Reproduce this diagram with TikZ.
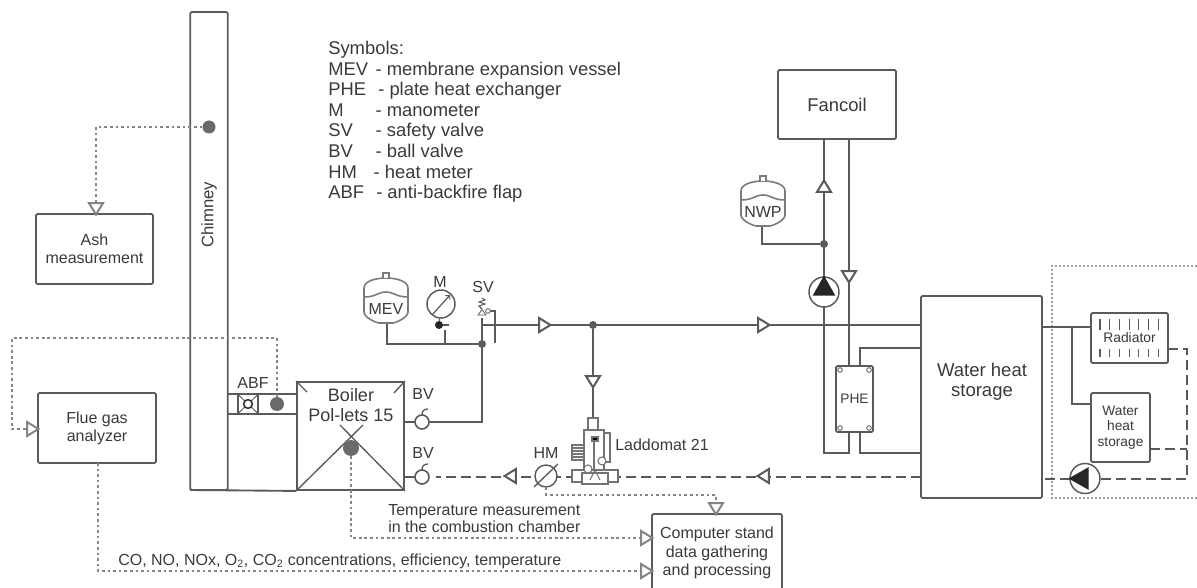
\documentclass[tikz,border=0pt]{standalone}
\usepackage{fontspec}
\setmainfont{Liberation Sans}
\usetikzlibrary{shapes.geometric}
\definecolor{pipegray}{HTML}{5A5A5A}
\definecolor{signalgray}{HTML}{858585}
\definecolor{textgray}{HTML}{3A3A3A}

\tikzset{%
  plant box/.style 2 args={
    draw=pipegray,
    line width=1.4pt,
    fill=white,
    align=center,
    inner sep=0pt,
    rounded corners=1pt,
    text=textgray,
    font=\fontsize{12}{13.7}\selectfont,
    minimum width=0.75pt*#1,
    minimum height=0.75pt*#2
  },
  label text/.style={
    text=textgray,
    inner sep=0pt,
    align=left,
    font=\fontsize{12}{13}\selectfont
  },
  pipe line/.style={draw=pipegray, line width=1.9pt},
  thin pipe/.style={draw=pipegray, line width=1.4pt},
  return pipe/.style={draw=pipegray, line width=1.9pt, dash pattern=on 7.5pt off 3.75pt},
  signal line/.style={draw=signalgray, line width=1.7pt, dash pattern=on 2pt off 2.2pt},
  flow mark/.style={
    isosceles triangle,
    isosceles triangle stretches,
    draw=pipegray,
    fill=white,
    line width=1.5pt,
    inner sep=0pt,
    minimum height=8.5pt,
    minimum width=10.5pt,
    shape border rotate=#1
  },
  probe dot/.style={circle, fill=signalgray!80!black, inner sep=0pt, minimum size=0.75pt*#1},
  joint dot/.style={circle, fill=pipegray, inner sep=0pt, minimum size=6pt},
  pump body/.style={circle, draw=pipegray, fill=white, line width=1.1pt, inner sep=0pt, minimum size=22.5pt},
  pump mark/.style={
    isosceles triangle,
    isosceles triangle stretches,
    fill=black!85,
    inner sep=0pt,
    minimum height=15pt,
    minimum width=17pt,
    shape border rotate=#1
  },
  valve body/.style={circle, draw=pipegray, fill=white, line width=1.2pt, inner sep=0pt, minimum size=10.5pt},
  vessel/.pic={
    \draw [thin pipe, line width=1.2pt, draw=pipegray!80, fill=white]
      (-22,-12) .. controls (-22,-19) and (-10,-22) .. (0,-22)
      .. controls (10,-22) and (22,-19) .. (22,-12) -- (22,12)
      .. controls (22,17) and (12,22) .. (7,23) -- (-7,23)
      .. controls (-12,22) and (-22,17) .. (-22,12) -- cycle;
    \draw [thin pipe, line width=1.2pt, draw=pipegray!80] (-22,-3) .. controls (-10,-3) and (-8,-8) .. (0,-8)
      .. controls (8,-8) and (10,-3) .. (22,-3);
    \draw [thin pipe, line width=1.2pt, draw=pipegray!80, fill=white] (-3,-22) -- (-3,-27) -- (3,-27) -- (3,-22);
  },
  ball valve/.pic={
    \draw [thin pipe, line width=1pt] (0,-7) .. controls (0,-11) and (2,-13) .. (6,-13);
  },
  hx corner/.style={circle, draw=pipegray, line width=0.6pt, inner sep=0pt, minimum size=3.5pt}
}

\begin{document}
\begin{tikzpicture}[x=0.75pt,y=-0.75pt]
  \useasboundingbox (0,0) rectangle (1197,588);

  % chimney and boiler
  \node [plant box={37.5}{478}] (chimney) at (209,251) {};
  \node [label text, rotate=90, font=\fontsize{12.5}{14}\selectfont] (chimney-text) at (209,215) {Chimney};
  \node [plant box={107}{108}, rounded corners=0pt] (boiler) at (350.5,436) {};
  \coordinate (base-1) at (190,490);
  \coordinate (duct-a) at (228,394);
  \coordinate (duct-b) at (297,394);
  \coordinate (duct-c) at (228,414);
  \coordinate (duct-d) at (297,414);
  \draw [thin pipe] (base-1) -- (boiler.south west);
  \draw [thin pipe] (duct-a) -- (duct-b);
  \draw [thin pipe] (duct-c) -- (duct-d);
  \coordinate (cross-a) at (340,425);
  \coordinate (cross-b) at (363,425);
  \coordinate (tick-a) at (307,392);
  \coordinate (tick-b) at (394,393);
  \draw [thin pipe, line width=1pt] (boiler.south west) -- (cross-b);
  \draw [thin pipe, line width=1pt] (boiler.south east) -- (cross-a);
  \draw [thin pipe, line width=1pt] (boiler.north west) -- (tick-a);
  \draw [thin pipe, line width=1pt] (boiler.north east) -- (tick-b);
  \node [label text, align=center, font=\fontsize{13.5}{15}\selectfont] (boiler-text) at (351,405) {Boiler\\Pol-lets 15};

  % anti-backfire flap
  \node [plant box={20}{19}, line width=0.9pt, rounded corners=0pt] (flap) at (248,404) {};
  \draw [thin pipe, line width=0.7pt] (flap.north west) -- (flap.south east);
  \draw [thin pipe, line width=0.7pt] (flap.north east) -- (flap.south west);
  \node [circle, draw=black!80, fill=white, line width=1.2pt, inner sep=0pt, minimum size=6.5pt] (flap-c) at (248,404) {};
  \node [label text] (ABF) at (253,383) {ABF};

  % probes
  \node [probe dot=13] (probe-1) at (209,127) {};
  \node [probe dot=14] (probe-2) at (277,404) {};
  \node [probe dot=16] (probe-3) at (351,448) {};

  % measurement boxes
  \node [plant box={117}{70}] (ash) at (94.5,249) {Ash\\measurement};
  \node [plant box={118}{70}] (analyzer) at (97,428) {Flue gas\\analyzer};
  \node [plant box={130}{78}] (computer) at (717,553) {Computer stand\\data gathering\\and processing};
  \node [plant box={118}{69}, font=\fontsize{13.8}{15}\selectfont] (fancoil) at (837,104.5) {Fancoil};
  \node [plant box={121}{202}] (storage) at (981.5,397) {};
  \node [label text, align=center, font=\fontsize{13.9}{15}\selectfont] (storage-text) at (982,382) {Water heat\\storage};
  \node [plant box={77}{50}, font=\fontsize{10.4}{11}\selectfont] (radiator) at (1129.5,338) {Radiator};
  \node [plant box={59}{69}, font=\fontsize{10.3}{11.6}\selectfont] (small-storage) at (1120.5,427.5) {Water\\heat\\storage};
  \node [plant box={37}{66}, font=\fontsize{10.3}{11}\selectfont] (PHE) at (854.5,399) {PHE};

  % radiator ribs
  \foreach \n in {0,...,6}{
    \coordinate (rib-a\n) at (1100+9.7*\n,319);
    \coordinate (rib-b\n) at (1100+9.7*\n,330);
    \coordinate (rib-c\n) at (1100+9.7*\n,349);
    \coordinate (rib-d\n) at (1100+9.7*\n,357);
    \draw [thin pipe, line width=0.9pt] (rib-a\n) -- (rib-b\n);
    \draw [thin pipe, line width=0.9pt] (rib-c\n) -- (rib-d\n);
  }

  % exchanger corners
  \node [hx corner] (hx-1) at (840,370) {};
  \node [hx corner] (hx-2) at (869,370) {};
  \node [hx corner] (hx-3) at (840,428) {};
  \node [hx corner] (hx-4) at (869,428) {};

  % dotted frame, open towards the right border
  \coordinate (frame-a) at (1197,266);
  \coordinate (frame-b) at (1052,266);
  \coordinate (frame-c) at (1052,498);
  \coordinate (frame-d) at (1197,498);
  \draw [signal line, line width=1.1pt, dash pattern=on 1.5pt off 1.5pt, draw=signalgray!80] (frame-a) -- (frame-b) -- (frame-c) -- (frame-d);

  % feed pipes
  \coordinate (mev-in) at (387,323);
  \coordinate (mev-c) at (387,344);
  \coordinate (gauge-c) at (445,344);
  \coordinate (gauge-d) at (445,330);
  \coordinate (sv-top) at (482,318);
  \coordinate (feed-a) at (482,325);
  \coordinate (feed-b) at (921,325);
  \coordinate (bv1-c) at (482,422);
  \coordinate (bv1-l) at (404,422);
  \coordinate (bv2-l) at (404,477);
  \coordinate (stub-a) at (495,311);
  \coordinate (stub-b) at (495,343);
  \coordinate (stub-c) at (487,311);
  \node [joint dot] (joint-1) at (482,344) {};
  \node [joint dot] (joint-2) at (593,325) {};
  \draw [pipe line] (mev-in) -- (mev-c) -- (joint-1);
  \draw [thin pipe] (gauge-d) -- (gauge-c);
  \draw [thin pipe] (sv-top) -- (joint-1);
  \draw [pipe line] (joint-1) -- (bv1-c) -- (bv1-l);
  \draw [pipe line] (feed-a) -- (feed-b);
  \draw [thin pipe] (stub-c) -- (stub-a) -- (stub-b);
  \coordinate (bv2-r) at (422,477);
  \draw [pipe line] (bv2-l) -- (bv2-r);

  % fancoil and exchanger loop
  \coordinate (fan-up) at (824,139);
  \coordinate (fan-down) at (849,139);
  \coordinate (loop-a) at (824,453);
  \coordinate (loop-b) at (849,453);
  \coordinate (hx-top) at (849,366);
  \coordinate (hx-low) at (849,432);
  \coordinate (hs-top) at (860,366);
  \coordinate (hs-a) at (860,348);
  \coordinate (hs-b) at (921,348);
  \coordinate (hs-low) at (860,432);
  \coordinate (hs-c) at (860,453);
  \coordinate (hs-d) at (921,453);
  \coordinate (nwp-in) at (762,225);
  \coordinate (nwp-c) at (762,244);
  \draw [thin pipe] (fan-up) -- (loop-a) -- (loop-b) -- (hx-low);
  \draw [thin pipe] (fan-down) -- (hx-top);
  \draw [thin pipe] (hs-top) -- (hs-a) -- (hs-b);
  \draw [thin pipe] (hs-low) -- (hs-c) -- (hs-d);
  \node [joint dot] (joint-3) at (824,244) {};
  \draw [thin pipe] (nwp-in) -- (nwp-c) -- (joint-3);

  % radiator side
  \coordinate (rad-a) at (1042,327);
  \coordinate (rad-b) at (1091,327);
  \coordinate (rad-c) at (1072,327);
  \coordinate (rad-d) at (1072,404);
  \coordinate (rad-e) at (1091,404);
  \coordinate (back-a) at (1168,349);
  \coordinate (back-b) at (1187,349);
  \coordinate (back-c) at (1187,479);
  \coordinate (back-d) at (1150,449);
  \coordinate (back-e) at (1187,449);
  \coordinate (back-f) at (1042,479);
  \coordinate (back-g) at (1085,479);
  \draw [pipe line] (rad-a) -- (rad-b);
  \draw [pipe line] (rad-c) -- (rad-d) -- (rad-e);
  \draw [return pipe] (back-a) -- (back-b) -- (back-c) -- (back-g);
  \draw [return pipe] (back-d) -- (back-e);
  \draw [return pipe] (back-g) -- (back-f);
  \node [pump body] (pump-2) at (1085,478.5) {};
  \node [pump mark=180] (pump-2m) at (1082,478.5) {};

  % return pipe
  \coordinate (ret-a) at (921,477);
  \coordinate (ret-b) at (436,477);
  \draw [return pipe] (ret-a) -- (ret-b);

  % main pump
  \node [pump body] (pump-1) at (824,292) {};
  \node [pump mark=90] (pump-1m) at (824,289) {};

  % mixing valve
  \coordinate (mix-in) at (593,418);
  \draw [pipe line] (joint-2) -- (mix-in);
  \begin{scope}[draw=pipegray!85, line width=0.8pt]
    \draw [fill=white] (572,445) rectangle (584,460);
    \draw [fill=white] (584,430) rectangle (604,478);
    \draw [fill=white] (588,418) rectangle (598,430);
    \draw [fill=white] (604,433) rectangle (610,462);
    \draw [fill=white] (572,470) rectangle (618,482);
    \draw [fill=white] (582,473) rectangle (608,484);
    \foreach \y in {448,451,454,457} \draw (572,\y) -- (584,\y);
    \draw [fill=white] (588,469) circle (4);
    \draw [fill=white] (602,461) circle (4);
    \draw [fill=black] (592,437) rectangle (598,441);
    \draw (594,441) -- (594,470);
    \draw (590,480) -- (595,470) -- (600,480);
  \end{scope}
  \node [label text, anchor=west] (laddomat) at (615,445) {Laddomat 21};

  % flow marks
  \node [flow mark=0] (flow-1) at (543,325) {};
  \node [flow mark=0] (flow-2) at (762,325) {};
  \node [flow mark=90] (flow-3) at (824,188) {};
  \node [flow mark=270] (flow-4) at (849,275) {};
  \node [flow mark=180] (flow-5) at (512,476) {};
  \node [flow mark=180] (flow-6) at (765,476) {};
  \node [flow mark=270] (flow-7) at (593,380) {};

  % vessels
  \pic at (386,300) {vessel};
  \node [label text] (MEV) at (386,309) {MEV};
  \pic at (763,203) {vessel};
  \node [label text] (NWP) at (763,212) {NWP};

  % manometer
  \node [circle, draw=pipegray, fill=white, line width=1.1pt, inner sep=0pt, minimum size=21pt] (gauge) at (441,304) {};
  \coordinate (gauge-a) at (432,315);
  \coordinate (gauge-b) at (450,295);
  \draw [->, thin pipe, line width=0.9pt] (gauge-a) -- (gauge-b);
  \node [circle, fill=black!85, inner sep=0pt, minimum size=6pt] (gauge-v) at (439,325) {};
  \draw [thin pipe, line width=0.9pt] (gauge) -- (gauge-v);
  \coordinate (gauge-t) at (449,325);
  \draw [thin pipe, line width=0.9pt] (gauge-v) -- (gauge-t);
  \node [label text] (M) at (440,282) {M};

  % safety valve
  \coordinate (sv-a) at (482,298);
  \draw [thin pipe, line width=0.8pt] (sv-a) -- ++(3,2) -- ++(-6,2) -- ++(6,2) -- ++(-6,2) -- ++(3,3);
  \node [isosceles triangle, isosceles triangle stretches, draw=pipegray, fill=white, line width=0.6pt, inner sep=0pt, minimum height=4pt, minimum width=6pt, shape border rotate=90] (sv-v) at (482,313) {};
  \node [circle, draw=pipegray, fill=white, line width=0.6pt, inner sep=0pt, minimum size=3.5pt] (sv-o) at (488,311) {};
  \node [label text] (SV) at (483,287) {SV};

  % ball valves
  \node [valve body] (bv-1) at (422,422) {};
  \pic at (422,422) {ball valve};
  \node [label text] (BV1) at (423,394) {BV};
  \node [valve body] (bv-2) at (422,477) {};
  \pic at (422,477) {ball valve};
  \node [label text] (BV2) at (423,453) {BV};

  % heat meter
  \node [circle, draw=pipegray, fill=white, line width=1.1pt, inner sep=0pt, minimum size=16.5pt] (HM-c) at (546,476) {};
  \coordinate (hm-a) at (534,487);
  \coordinate (hm-b) at (558,464);
  \draw [thin pipe, line width=1pt] (hm-a) -- (hm-b);
  \node [label text] (HM) at (546,453) {HM};

  % signal lines
  \coordinate (sig-a) at (96,127);
  \node [flow mark=270, draw=signalgray] (sig-ash) at (96,207) {};
  \draw [signal line] (probe-1) -- (sig-a) -- (sig-ash);
  \coordinate (sig-b) at (277,338);
  \coordinate (sig-c) at (12,338);
  \coordinate (sig-d) at (12,429);
  \node [flow mark=0, draw=signalgray] (sig-gas) at (31,429) {};
  \draw [signal line] (probe-2) -- (sig-b) -- (sig-c) -- (sig-d) -- (sig-gas);
  \coordinate (sig-e) at (351,538);
  \node [flow mark=0, draw=signalgray] (sig-temp) at (645,538) {};
  \draw [signal line] (probe-3) -- (sig-e) -- (sig-temp);
  \coordinate (sig-f) at (98,571);
  \coordinate (sig-g) at (98,463);
  \node [flow mark=0, draw=signalgray] (sig-conc) at (645,571) {};
  \draw [signal line] (sig-g) -- (sig-f) -- (sig-conc);
  \coordinate (sig-h) at (546,495);
  \coordinate (sig-i) at (716,495);
  \node [flow mark=270, draw=signalgray] (sig-hm) at (716,507) {};
  \draw [signal line] (HM-c) -- (sig-h) -- (sig-i) -- (sig-hm);

  % texts
  \node [label text, anchor=north west, font=\fontsize{13.8}{15.45}\selectfont] (symbols) at (328,41) {Symbols:\\
    \makebox[35.5pt][l]{MEV}- membrane expansion vessel\\
    \makebox[37.5pt][l]{PHE}- plate heat exchanger\\
    \makebox[35.5pt][l]{M}- manometer\\
    \makebox[35.5pt][l]{SV}- safety valve\\
    \makebox[35.5pt][l]{BV}- ball valve\\
    \makebox[34pt][l]{HM}- heat meter\\
    \makebox[36pt][l]{ABF}- anti-backfire flap};
  \node [label text, anchor=west, font=\fontsize{12}{12.75}\selectfont] (temp-text) at (388,518.5) {Temperature measurement\\in the combustion chamber};
  \node [label text, anchor=west] (conc-text) at (118,561) {CO, NO, NOx, O\textsubscript{2}, CO\textsubscript{2} concentrations, efficiency, temperature};
\end{tikzpicture}
\end{document}
